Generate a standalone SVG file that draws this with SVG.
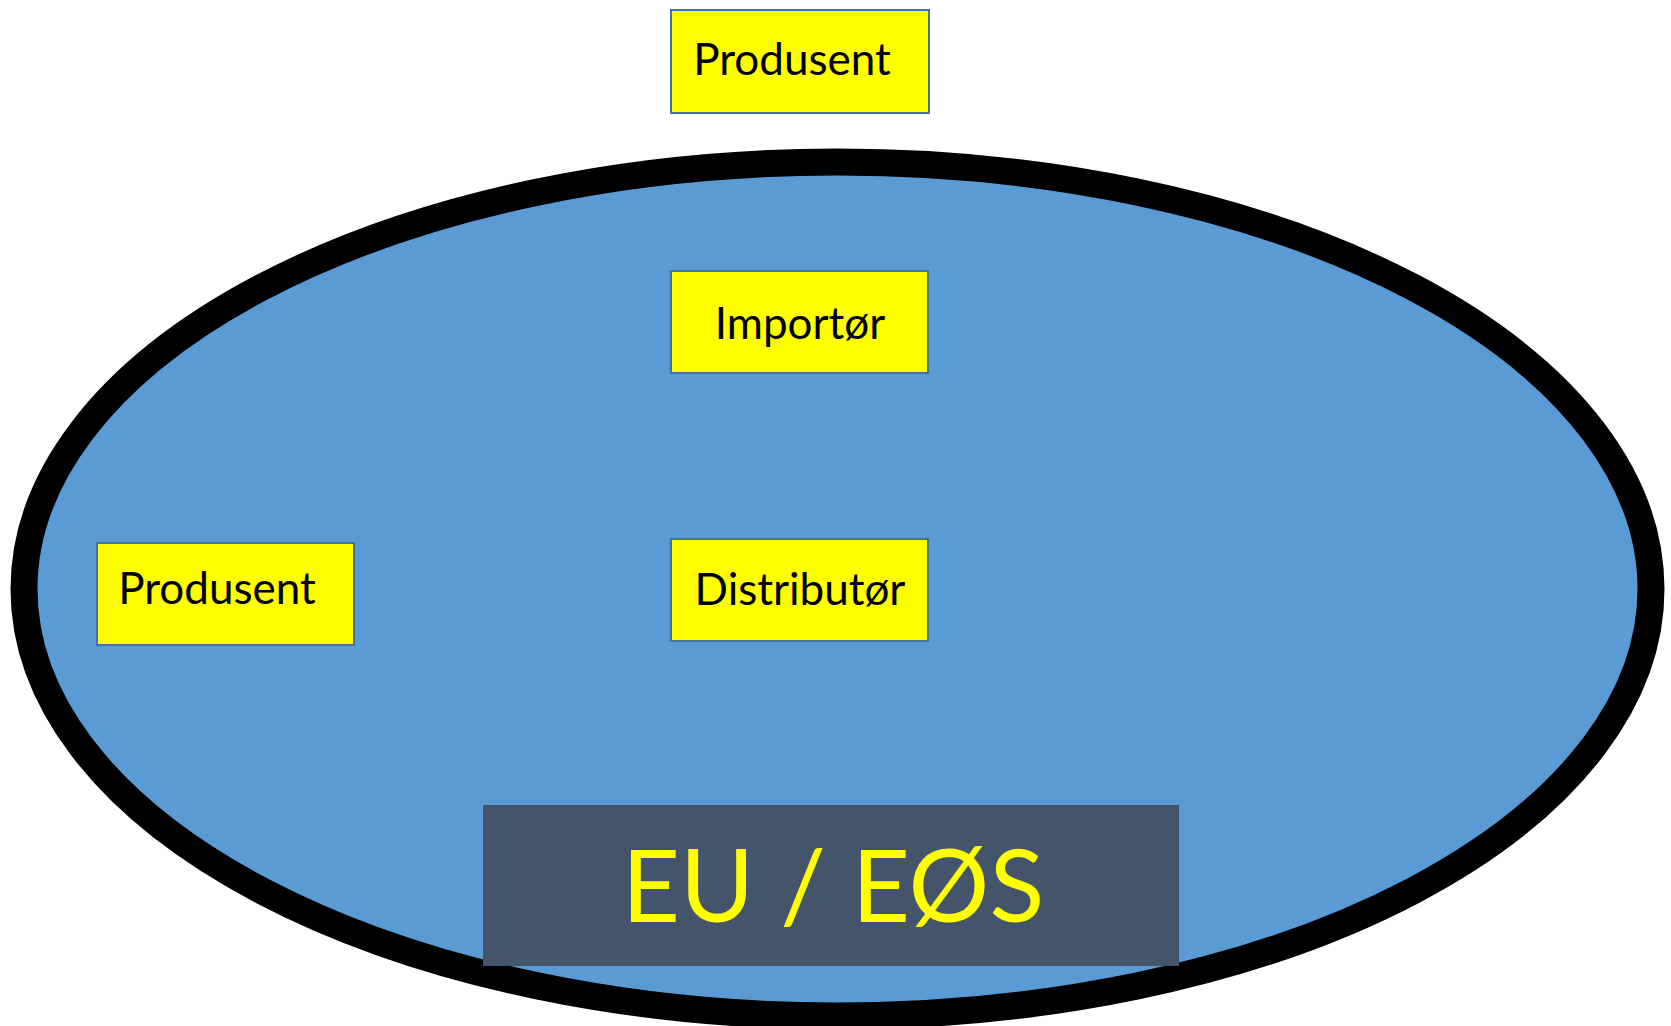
<svg xmlns="http://www.w3.org/2000/svg" width="1671" height="1026" viewBox="0 0 1671 1026">
<style>
.box{fill:#FFFF00;stroke:#41719C;stroke-width:2}
.lbl{font-family:Lato,"Open Sans",sans-serif;font-size:44px;fill:#000;text-anchor:middle}
.big{font-family:Lato,"Open Sans",sans-serif;font-size:101px;fill:#FFFF00;text-anchor:middle}
</style>
<rect width="1671" height="1026" fill="#FFFFFF"/>
<g id="eu-area">
<ellipse cx="837.5" cy="589" rx="813.5" ry="427" fill="#5B9BD5" stroke="#000000" stroke-width="27"/>
</g>
<g id="connectors"></g>
<g id="produsent-top">
<rect class="box" x="671" y="10" width="258" height="103"/>
<text class="lbl" x="792" y="75">Produsent</text>
</g>
<g id="importor">
<rect class="box" x="671" y="271" width="257" height="102"/>
<text class="lbl" x="800" y="339">Importør</text>
</g>
<g id="distributor">
<rect class="box" x="671" y="539" width="257" height="102"/>
<text class="lbl" x="800" y="605">Distributør</text>
</g>
<g id="produsent-left">
<rect class="box" x="97" y="543" width="257" height="102"/>
<text class="lbl" x="217" y="604">Produsent</text>
</g>
<g id="eu-eos">
<rect x="483" y="805" width="696" height="161" fill="#44546A"/>
<text class="big" x="833" y="922">EU / EØS</text>
</g>
</svg>
